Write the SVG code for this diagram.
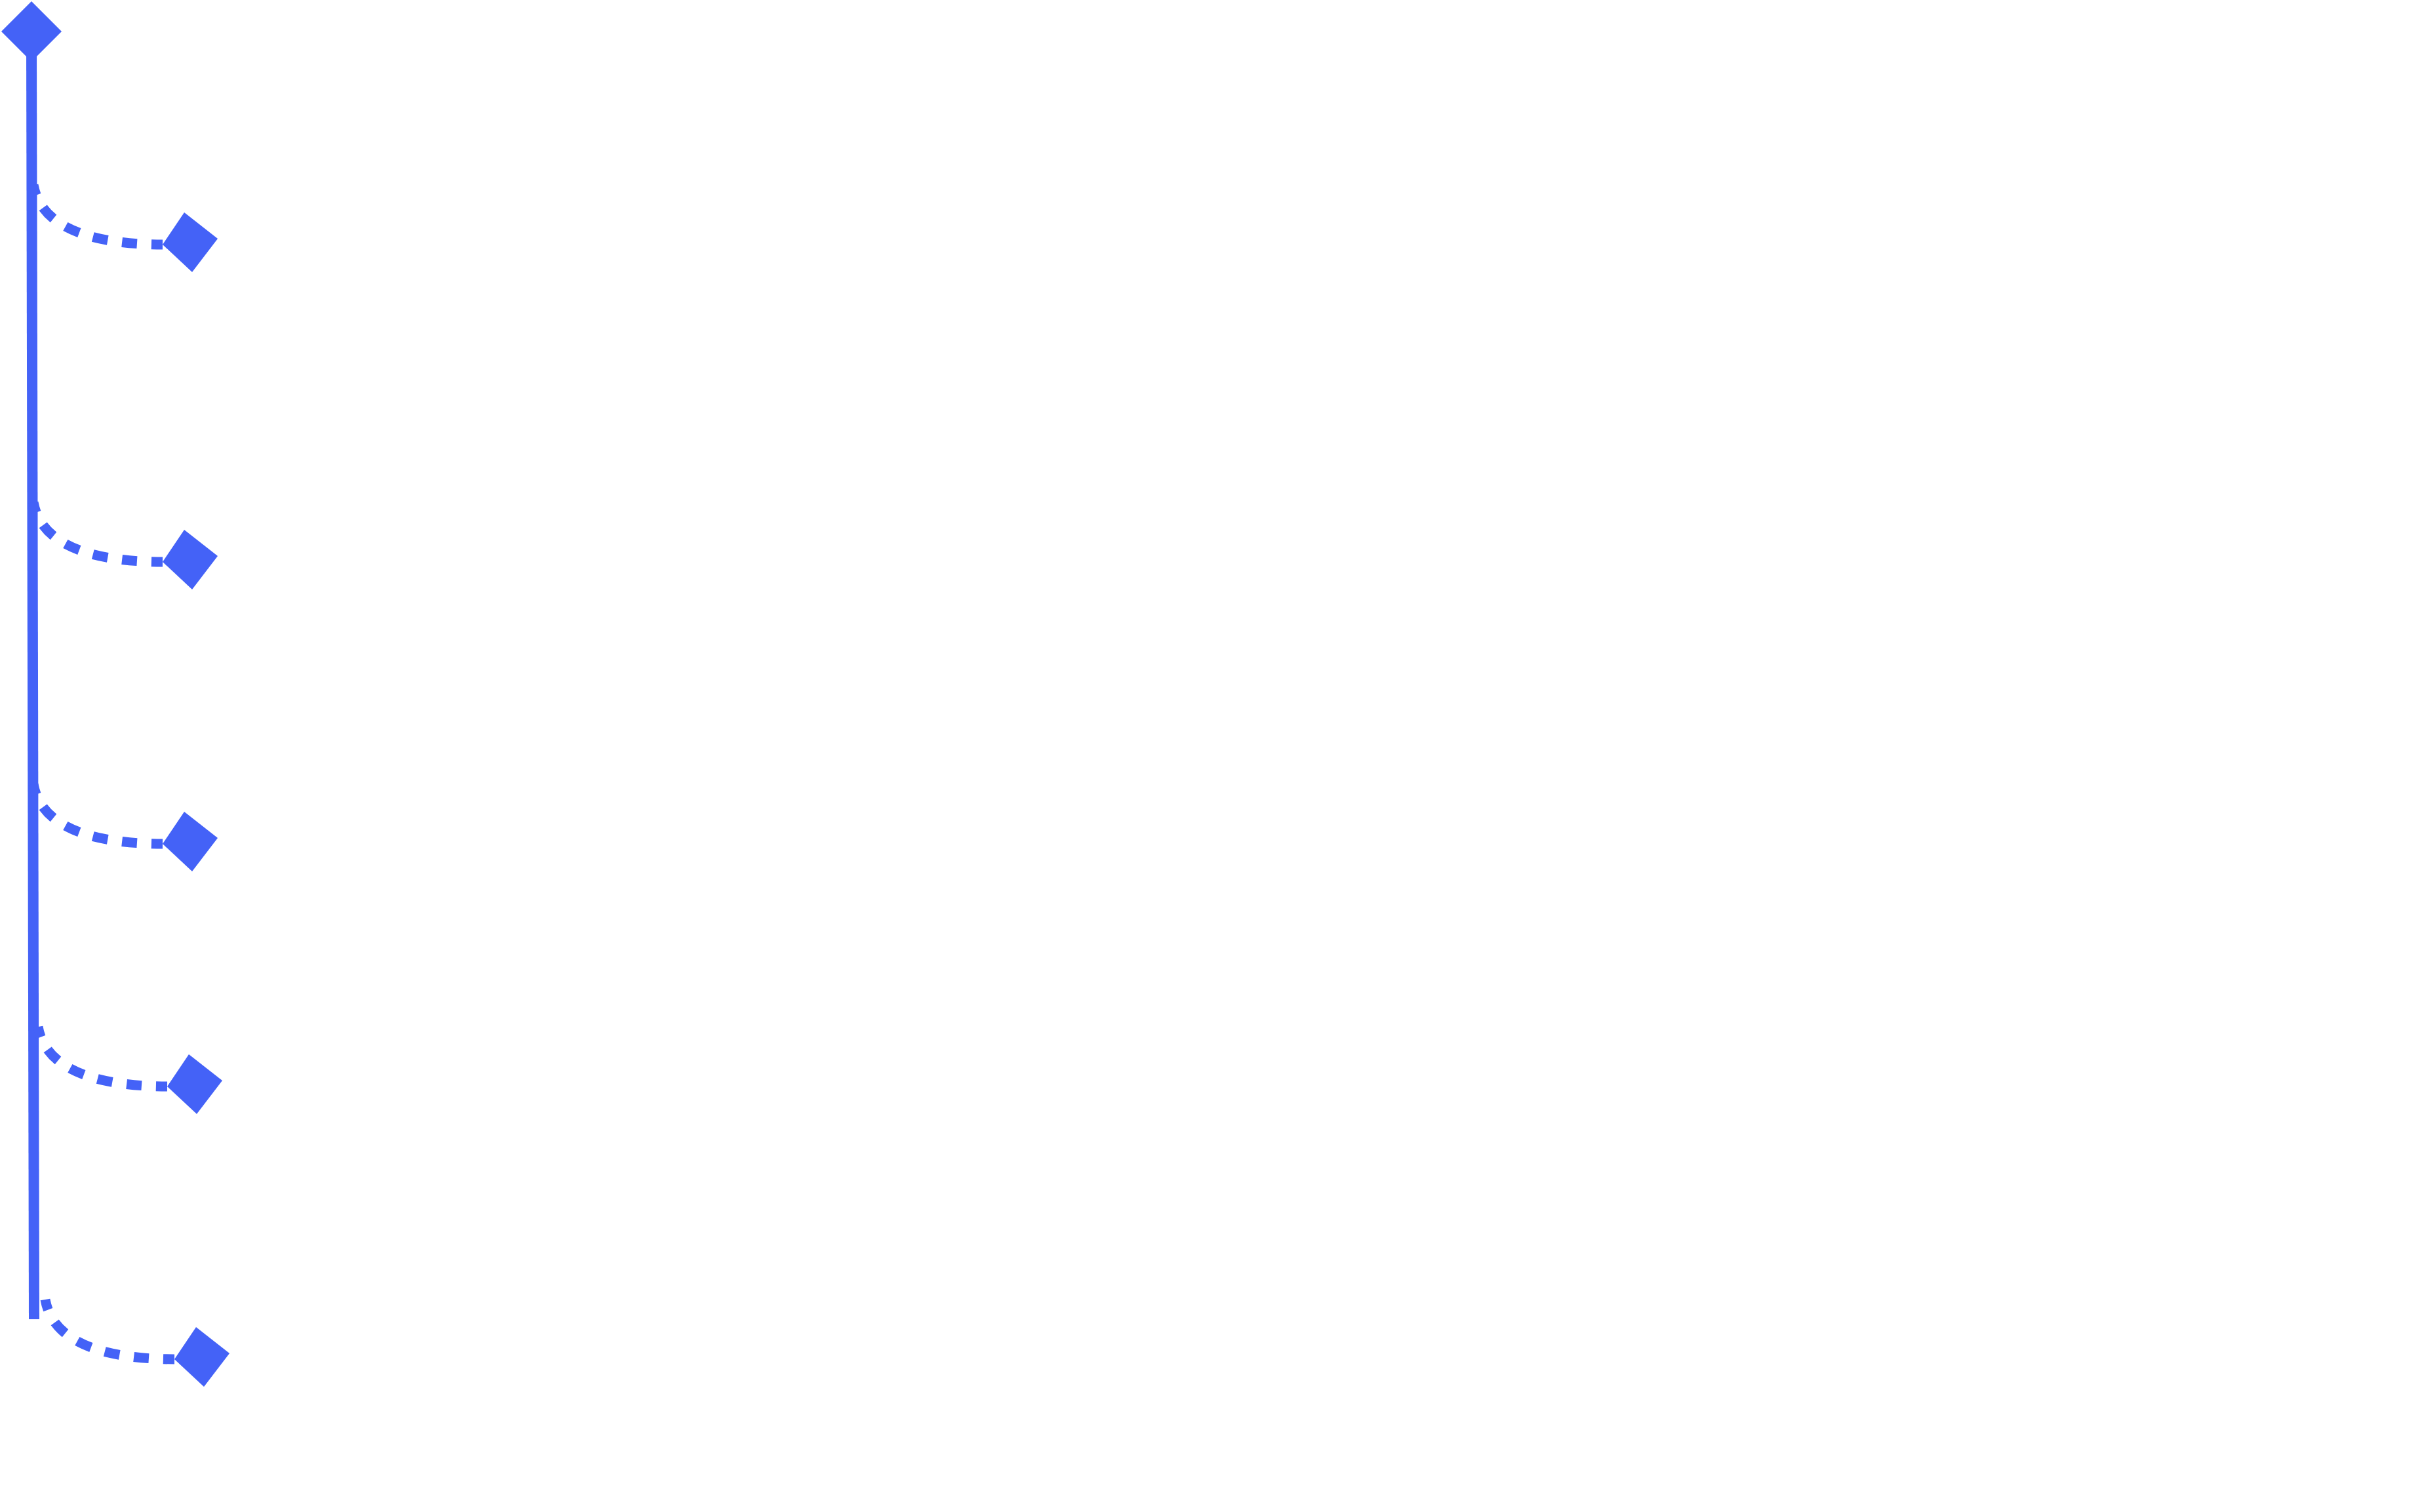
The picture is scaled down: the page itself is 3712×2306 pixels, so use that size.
<svg xmlns="http://www.w3.org/2000/svg" xmlns:xlink="http://www.w3.org/1999/xlink" width="3712" height="2306" viewBox="0 0 3712 2306">
  <style>
    .trunk { stroke: #4462F7; stroke-width: 16; fill: none; stroke-linecap: butt; }
    .branch { stroke: #4462F7; stroke-width: 15; fill: none; stroke-dasharray: 23 22; stroke-dashoffset: 6; stroke-linecap: butt; }
    .node { fill: #4462F7; }
  </style>
  <defs>
    <polygon id="leaf" points="0,0 33,-49 84,-9 45,42"/>
  </defs>
  <rect width="3712" height="2306" fill="#FFFFFF"/>
  <g id="connectors">
    <line class="trunk" x1="48" y1="60" x2="52" y2="2012"/>
    <path class="branch" d="M 248 373 Q 67 372 51 282"/>
    <path class="branch" d="M 248 857 Q 67 856 51 766"/>
    <path class="branch" d="M 248 1287 Q 67 1286 51 1196"/>
    <path class="branch" d="M 255 1657 Q 74 1656 58 1566"/>
    <path class="branch" d="M 266 2073 Q 85 2072 69 1982"/>
  </g>
  <g id="root">
    <polygon class="node" points="48,2 94,48 48,94 2,48"/>
  </g>
  <g id="leaf1"><use class="node" xlink:href="#leaf" href="#leaf" transform="translate(248,373)"/></g>
  <g id="leaf2"><use class="node" xlink:href="#leaf" href="#leaf" transform="translate(248,857)"/></g>
  <g id="leaf3"><use class="node" xlink:href="#leaf" href="#leaf" transform="translate(248,1287)"/></g>
  <g id="leaf4"><use class="node" xlink:href="#leaf" href="#leaf" transform="translate(255,1657)"/></g>
  <g id="leaf5"><use class="node" xlink:href="#leaf" href="#leaf" transform="translate(266,2073)"/></g>
</svg>
